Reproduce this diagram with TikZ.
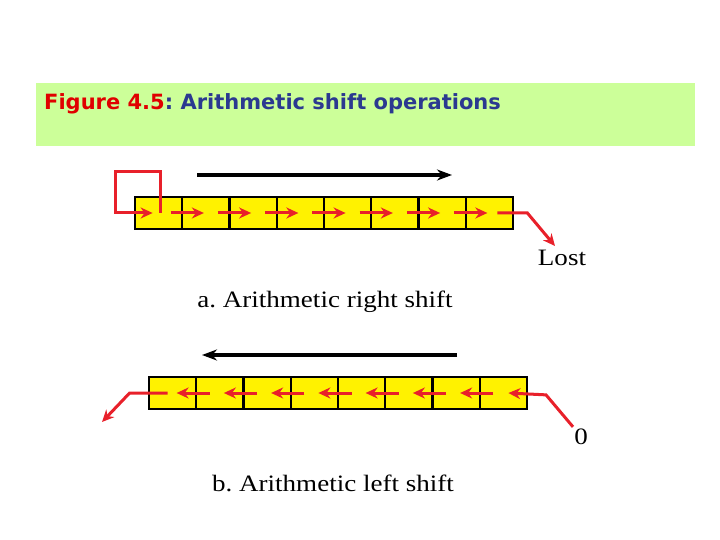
\documentclass[tikz,border=0pt]{standalone}
\usepackage{fontspec}
\setmainfont{Liberation Serif}[FakeStretch=1.15]
\newfontfamily\titlefont{DejaVu Sans}
\usepackage{tikz}
\usetikzlibrary{arrows.meta,positioning}
\usepackage{xcolor}
\definecolor{titlegreen}{HTML}{CCFF99}
\definecolor{titlered}{HTML}{E00000}
\definecolor{titleblue}{HTML}{2B3990}
\definecolor{shiftred}{HTML}{E8202A}
\frenchspacing

\begin{document}
\begin{tikzpicture}[x=1pt,y=-1pt]
\tikzstyle{cell} = [rectangle, draw=black, line width=2.2pt, fill=yellow,
minimum width=47.25pt, minimum height=32pt, inner sep=0pt, outer sep=0pt]
\tikzstyle{shiftline} = [draw=shiftred, line width=3pt, -{Stealth[length=12pt,width=11pt]}]
\tikzstyle{dirline} = [draw=black, line width=3.2pt, -{Stealth[length=15pt,width=11pt]}]
\tikzstyle{label} = [font=\fontsize{23.5}{26}\selectfont, inner sep=0pt]

\useasboundingbox (0,0) rectangle (720,540);

% title bar
\fill[titlegreen] (36,83) rectangle (695,146);
\node[anchor=base west, inner sep=0pt, font=\titlefont\bfseries\fontsize{21}{24}\selectfont]
  (title) at (44,110) {\textcolor{titlered}{Figure 4.5}\textcolor{titleblue}{: Arithmetic shift operations}};

% a. right shift
\foreach \i in {1,...,8}
  \node[cell] (r\i) at ({135+47.25*(\i-0.5)},213) {};
\coordinate (rstart) at (197,175);
\coordinate (rend) at (452,175);
\draw[dirline] (rstart) -- (rend);
\foreach \i/\j in {1/2,2/3,3/4,4/5,5/6,6/7,7/8}
  \draw[shiftline] ([xshift=12pt]r\i.center) -- ([xshift=-2pt]r\j.center);
\draw[shiftline] ([xshift=2pt]r1.center) -- ++(0,-41) -| ++(-45,41) -- ([xshift=-6pt]r1.center);
\node[label] (lost) at (562,258) {Lost};
\draw[shiftline] ([xshift=8pt]r8.center) -- ++(30,0) -- ([xshift=-7pt,yshift=4pt]lost.north);
\node[label] (capa) at (325,302) {a. Arithmetic right shift};

% b. left shift
\foreach \i in {1,...,8}
  \node[cell] (l\i) at ({149+47.25*(\i-0.5)},393) {};
\coordinate (lstart) at (457,355);
\coordinate (lend) at (202,355);
\draw[dirline] (lstart) -- (lend);
\foreach \i/\j in {1/2,2/3,3/4,4/5,5/6,6/7,7/8}
  \draw[shiftline] ([xshift=-10pt]l\j.center) -- ([xshift=4pt]l\i.center);
\node[label] (zero) at (581,437) {0};
\draw[shiftline] ([xshift=-8pt,yshift=2pt]zero.north) -- ++(-27,-32) -- ([xshift=5pt]l8.center);
\coordinate (out) at (102,422);
\draw[shiftline] ([xshift=-5pt]l1.center) -- ++(-38,0) -- (out);
\node[label] (capb) at (333,483) {b. Arithmetic left shift};
\end{tikzpicture}
\end{document}
